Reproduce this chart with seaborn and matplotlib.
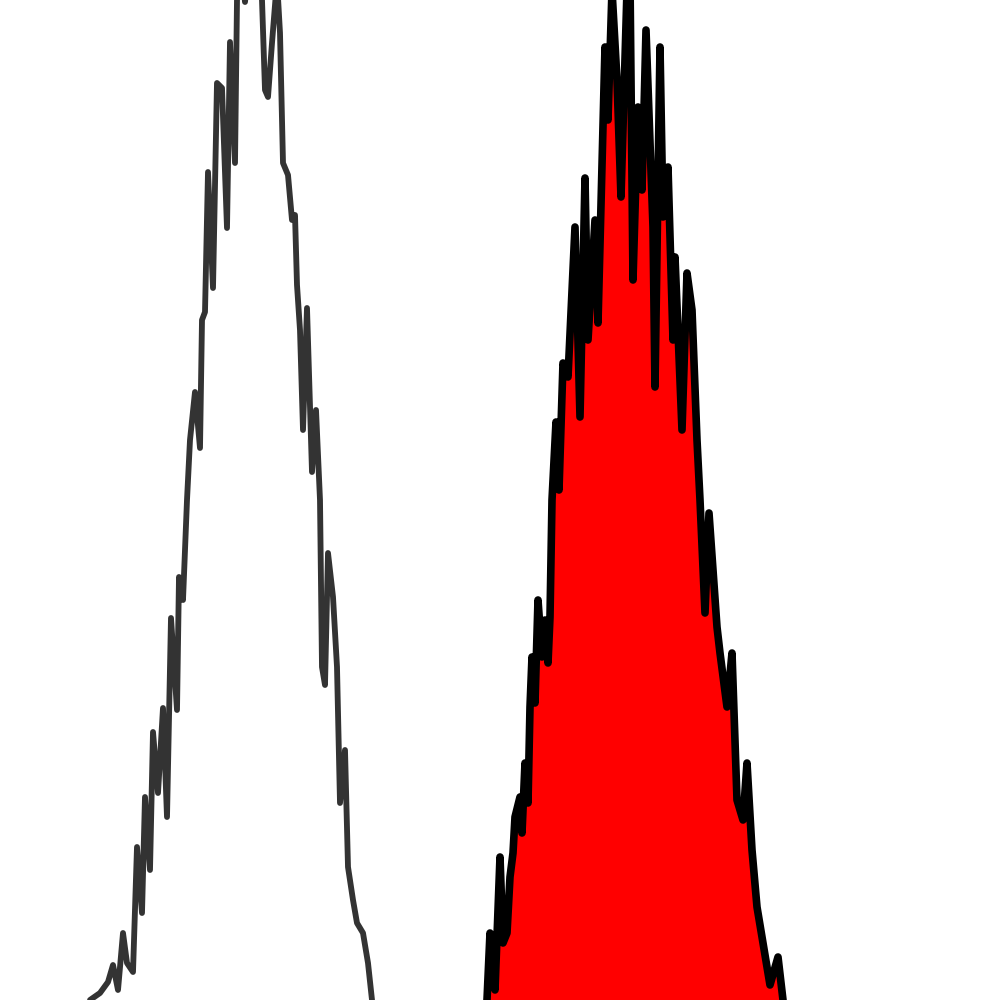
import matplotlib
matplotlib.use("Agg")
import matplotlib.pyplot as plt
import seaborn as sns
import numpy as np

# ---- data: channel vs event count ----
control_x = [90, 100, 108, 113, 118, 123, 127, 133, 137, 142, 145, 150, 153, 158,
             163, 167, 171, 177, 179, 183, 187, 190, 195, 200, 202, 205, 208, 213,
             217, 222, 227, 230, 235, 237, 242, 245, 250, 258, 262, 265, 268, 272,
             277, 280, 283, 288, 292, 295, 297, 300, 303, 307, 312, 316, 320, 322,
             325, 328, 333, 337, 340, 345, 348, 353, 357, 363, 368, 372]
control_counts = [0, 7, 18, 35, 10, 67, 37, 28, 153, 87, 203, 130, 268, 207,
                  292, 183, 382, 290, 423, 400, 500, 560, 608, 552, 680, 688, 828, 712,
                  917, 912, 772, 958, 837, 1000, 1030, 998, 1050, 1040, 1000, 910, 903, 957,
                  1020, 967, 837, 825, 780, 785, 715, 670, 570, 692, 528, 590, 500, 333,
                  315, 447, 403, 333, 197, 250, 133, 100, 77, 67, 37, 0]

sample_x = [487, 490, 495, 500, 503, 507, 510, 513, 515, 520, 522, 525, 528, 530,
            532, 535, 538, 542, 545, 548, 550, 552, 556, 559, 563, 568, 575, 580,
            585, 588, 595, 598, 605, 608, 612, 617, 621, 627, 630, 633, 638, 642,
            646, 653, 655, 660, 663, 668, 673, 675, 682, 687, 692, 697, 700, 705,
            709, 717, 720, 727, 732, 737, 743, 747, 752, 757, 763, 770, 778, 783]
sample_counts = [0, 67, 10, 143, 57, 67, 123, 147, 183, 203, 167, 237, 197, 293,
                 343, 297, 400, 343, 380, 337, 383, 500, 578, 510, 637, 623, 773, 583,
                 822, 660, 780, 677, 953, 880, 1010, 920, 803, 1010, 1020, 720, 893, 810,
                 970, 773, 613, 953, 783, 833, 660, 743, 570, 727, 690, 560, 500, 387,
                 487, 373, 347, 293, 347, 200, 180, 237, 150, 93, 57, 15, 43, 0]

# ---- plot ----
sns.set_style("white")
fig = plt.figure(figsize=(10, 10), dpi=100)
ax = fig.add_axes([0, 0, 1, 1])

ax.fill_between(sample_x, sample_counts, 0, color="#ff0000", linewidth=0)
sns.lineplot(x=sample_x, y=sample_counts, ax=ax, color="black",
             linewidth=5.5, sort=False, estimator=None,
             solid_joinstyle="round", solid_capstyle="round")
sns.lineplot(x=control_x, y=control_counts, ax=ax, color="#333333",
             linewidth=4.2, sort=False, estimator=None,
             solid_joinstyle="round", solid_capstyle="round")

ax.set_xlim(0, 1000)
ax.set_ylim(0, 1000)
ax.axis("off")

fig.savefig("out.png", dpi=100)
plt.close()
